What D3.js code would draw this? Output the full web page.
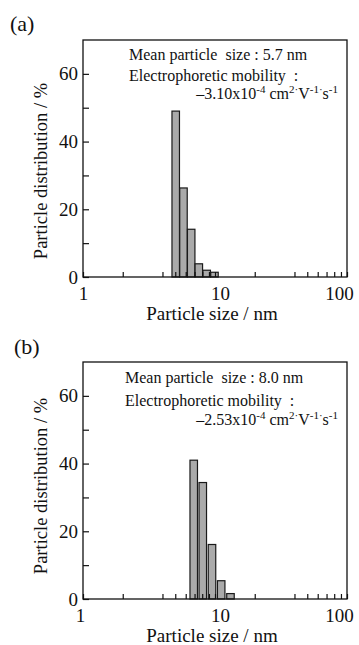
<!DOCTYPE html>
<html>
<head>
<meta charset="utf-8">
<script src="https://cdn.jsdelivr.net/npm/d3@7"></script>
<style>
body { margin:0; background:#fff; }
svg text { font-family:"Liberation Serif",serif; fill:#111; }
</style>
</head>
<body>
<svg id="graph"></svg>
<script>
// particle size (bin centre, nm) and distribution (%)
var sizesA = [5.04, 5.77, 6.60, 7.54, 8.65, 9.91]
var distA  = [49.0, 26.3, 14.1, 3.9, 2.0, 1.4]
var sizesB = [6.90, 8.08, 9.49, 11.14, 13.1]
var distB  = [41.0, 34.4, 16.1, 5.4, 1.6]

var xTicks = [1,2,4,5,6,7,8,9,10,20,40,50,60,70,80,90,100]
var xLabels = [1,10,100]
var yTicks = [0,10,20,30,40,50,60]
var yLabels = [0,20,40,60]

var meanA = "Mean particle  size : 5.7 nm"
var meanB = "Mean particle  size : 8.0 nm"
var mobA = "\u20133.10"
var mobB = "\u20132.53"

var screen = {width:359,height:645}
var svg = d3.select("#graph")
    .attr("width",screen.width)
    .attr("height",screen.height)

// small horizontal nudge of the decade labels, as in the original figure
var labelNudge = {1:0, 10:5, 100:-8}

var drawPanel = function(p)
{
    var g = svg.append("g")
    var xScale = d3.scaleLog().domain([1,100]).range([83,347])
    var yScale = d3.scaleLinear().domain([0,70]).range([p.top+237,p.top])
    var half = Math.pow(10,0.0284)

    g.selectAll("rect.bar")
    .data(p.sizes)
    .enter()
    .append("rect")
    .attr("class","bar")
    .attr("x",function(d){ return xScale(d/half) })
    .attr("width",function(d){ return xScale(d*half)-xScale(d/half) })
    .attr("y",function(d,i){ return yScale(p.dist[i]) })
    .attr("height",function(d,i){ return yScale(0)-yScale(p.dist[i]) })
    .attr("fill","#aaaaaa")
    .attr("stroke","#1a1a1a")
    .attr("stroke-width",1.2)

    var xAxis = g.append("g")
    .attr("transform","translate(0,"+yScale(0)+")")
    .call(d3.axisBottom(xScale).tickValues(xTicks).tickSize(-5).tickPadding(10)
        .tickFormat(function(d){ return xLabels.indexOf(d)>=0 ? d : "" }))
    xAxis.attr("font-family","Liberation Serif")
    xAxis.select(".domain").remove()
    xAxis.selectAll("text").style("font-size","19px").attr("fill","#111")
        .attr("dx",function(d){ return (labelNudge[d]||0)+(d==1 ? p.oneNudge : 0) })
    xAxis.selectAll("line").attr("stroke","#111").attr("stroke-width",1.2)

    var yAxis = g.append("g")
    .attr("transform","translate(83,0)")
    .call(d3.axisLeft(yScale).tickValues(yTicks).tickSize(-6).tickPadding(5)
        .tickFormat(function(d){ return yLabels.indexOf(d)>=0 ? d : "" }))
    yAxis.attr("font-family","Liberation Serif")
    yAxis.select(".domain").remove()
    yAxis.selectAll("text").style("font-size","19px").attr("fill","#111")
    yAxis.selectAll("line").attr("stroke","#111").attr("stroke-width",1.2)

    g.append("rect")
    .attr("x",83).attr("y",p.top)
    .attr("width",347-83).attr("height",237)
    .attr("fill","none").attr("stroke","#111").attr("stroke-width",1.3)

    g.append("text")
    .attr("x",p.labelX).attr("y",p.labelY)
    .attr("font-size",22)
    .text(p.label)

    g.append("text")
    .attr("x",212).attr("y",yScale(0)+p.xTitleDy)
    .attr("text-anchor","middle")
    .attr("font-size",19)
    .text("Particle size / nm")

    g.append("text")
    .attr("transform","translate(47,"+p.yTitleY+") rotate(-90)")
    .attr("text-anchor","middle")
    .attr("font-size",18.5)
    .text("Particle distribution / %")

    g.append("text")
    .attr("x",p.noteX).attr("y",p.top+p.noteDy[0])
    .attr("font-size",16)
    .style("white-space","pre")
    .text(p.mean)

    g.append("text")
    .attr("x",p.noteX).attr("y",p.top+p.noteDy[1])
    .attr("font-size",16)
    .style("white-space","pre")
    .text("Electrophoretic mobility  :")

    var mob = g.append("text")
    .attr("x",338).attr("y",p.top+p.noteDy[2])
    .attr("text-anchor","end")
    .attr("font-size",16)
    .style("white-space","pre")
    var parts = [[p.mob+"x10",0],["-4",1],[" cm",0],["2\u00b7",1],["V",0],["-1\u00b7",1],["s",0],["-1",1]]
    var prev = 0
    parts.forEach(function(t)
    {
        mob.append("tspan")
        .attr("font-size",t[1] ? 11 : 16)
        .attr("dy",(t[1] ? -6 : 0)-prev)
        .text(t[0])
        prev = t[1] ? -6 : 0
    })
}

drawPanel({top:40,sizes:sizesA,dist:distA,label:"(a)",labelX:10,labelY:31,oneNudge:0,
    xTitleDy:43,yTitleY:171,noteX:129,noteDy:[20,40.5,58.5],mean:meanA,mob:mobA})
drawPanel({top:362,sizes:sizesB,dist:distB,label:"(b)",labelX:14,labelY:354,oneNudge:-3,
    xTitleDy:43,yTitleY:486,noteX:125,noteDy:[21,43.5,63],mean:meanB,mob:mobB})
</script>
</body>
</html>
